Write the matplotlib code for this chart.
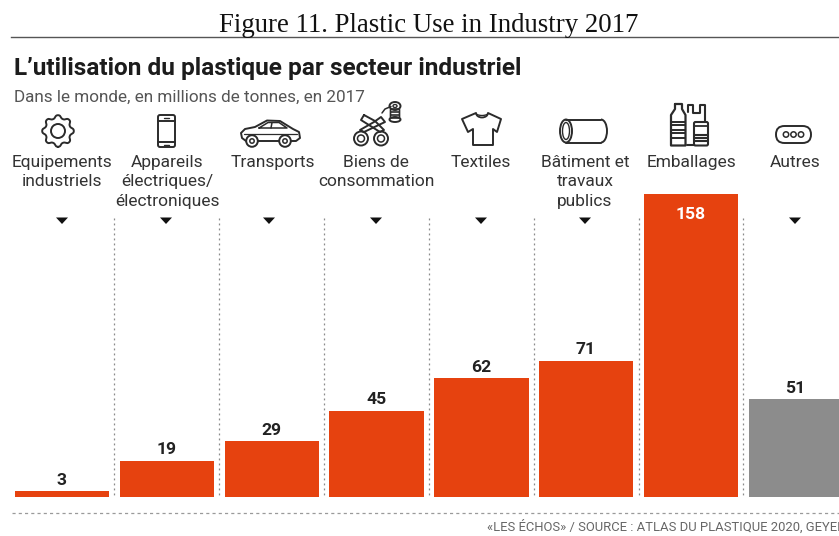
import numpy as np
import matplotlib
matplotlib.use("Agg")
import matplotlib.pyplot as plt
from matplotlib.patches import Circle, Ellipse, FancyBboxPatch, Polygon, Arc

categories = ["Equipements\nindustriels", "Appareils\nélectriques/\nélectroniques", "Transports",
              "Biens de\nconsommation", "Textiles", "Bâtiment et\ntravaux\npublics", "Emballages", "Autres"]
values = [3, 19, 29, 45, 62, 71, 158, 51]
label_x = [62, 167, 273, 376, 481, 585, 691, 795]
marker_x = [62, 166, 269, 376, 481, 585, 795]
colors = ["#E6420F"] * 7 + ["#8C8C8C"]
W, H = 839, 536
INK = "#2B2B2B"

fig = plt.figure(figsize=(W / 100, H / 100), dpi=100, facecolor="white")

# Bars live on their own axes, sized so one unit of index equals one category slot
base, top = 497, 194
ax = fig.add_axes([0, 1 - base / H, 1, (base - top) / H])
ax.set_xlim(-62.2 / 104.8, (W - 62.2) / 104.8)
ax.set_ylim(0, 158)
ax.axis("off")
ax.bar(range(len(values)), values, width=0.902, color=colors)
for i, v in enumerate(values):
    inside = v > 100
    ax.annotate(str(v), (i, v), xytext=(-0.5, -28 if inside else 11), textcoords="offset pixels",
                ha="center", va="center" if not inside else "bottom", fontsize=12.6, fontweight="bold",
                family="Roboto", color="#FFFFFF" if inside else "#222222", annotation_clip=False)

# Overlays in pixel coordinates for the header, icons and rules
ov = fig.add_axes([0, 0, 1, 1], zorder=-1)
ov.set_xlim(0, W)
ov.set_ylim(H, 0)
ov.axis("off")
ov2 = fig.add_axes([0, 0, 1, 1], zorder=3)
ov2.set_xlim(0, W)
ov2.set_ylim(H, 0)
ov2.axis("off")
ov2.patch.set_alpha(0)

ov2.text(429, 25.5, "Figure 11. Plastic Use in Industry 2017", ha="center", va="center",
         fontsize=19.3, family="Liberation Serif", color="#111111")
ov2.plot([11, W], [36.5, 36.5], color="#555555", lw=1)
ov2.text(14, 68.5, "L’utilisation du plastique par secteur industriel", ha="left", va="center",
         fontsize=17.6, fontweight="bold", family="Roboto", color="#1C1C1C")
ov2.text(14, 97, "Dans le monde, en millions de tonnes, en 2017", ha="left", va="center",
         fontsize=12.3, family="Roboto", color="#555555")

for x, lab in zip(label_x, categories):
    ov2.text(x, 155, lab, ha="center", va="top", fontsize=12.5, family="Roboto",
             color="#333333", linespacing=1.37)

for x in marker_x:
    ov2.add_patch(Polygon([[x - 6, 217.5], [x + 6, 217.5], [x, 224]], closed=True, color="#111111", lw=0))

for x in [114, 219, 324, 429, 534, 638.5, 743]:
    ov.plot([x, x], [218, 497], color="#8A8A8A", lw=0.9, ls=(0, (1.5, 2.5)))
ov2.plot([12, W], [513, 513], color="#9A9A9A", lw=0.9, ls=(0, (2.5, 2.5)))

ov2.text(487, 527, "«LES ÉCHOS» / SOURCE : ATLAS DU PLASTIQUE 2020, GEYER", ha="left", va="center",
         fontsize=9.4, family="Roboto", color="#666666", clip_on=True)


def line(pts, lw=1.4, closed=False):
    pts = np.array(pts, dtype=float)
    if closed:
        pts = np.vstack([pts, pts[0]])
    ov2.plot(pts[:, 0], pts[:, 1], color=INK, lw=lw, solid_joinstyle="round", solid_capstyle="round")


def ring(x, y, r, lw=1.4):
    ov2.add_patch(Circle((x, y), r, fill=False, ec=INK, lw=lw))


def rrect(x0, y0, x1, y1, r, lw=1.4):
    ov2.add_patch(FancyBboxPatch((x0 + r, y0 + r), x1 - x0 - 2 * r, y1 - y0 - 2 * r,
                                 boxstyle=f"round,pad={r}", fill=False, ec=INK, lw=lw))


# Gear
gx, gy = 58, 131
ang = np.linspace(0, 2 * np.pi, 145)
rad = 14.3 + 1.8 * np.tanh(1.2 * np.cos(8 * ang))
line(np.c_[gx + rad * np.sin(ang), gy + rad * np.cos(ang)])
ring(gx, gy, 7)

# Phone
rrect(158, 115, 175, 147, 2)
line([[158, 121], [175, 121]])
line([[158, 141.5], [175, 141.5]])
line([[164, 118], [169, 118]], lw=1)
line([[164, 144.5], [169, 144.5]], lw=1)

# Car
line([[246, 141], [242, 138], [241, 133], [245, 129], [255, 127], [267, 120.5], [280, 121],
      [293, 129], [299, 132], [300, 138], [296, 141], [291, 141]])
line([[279, 141], [258, 141]])
line([[259, 128], [287, 128], [279, 122.5], [268, 122.5], [259, 128]], lw=1.1)
line([[272, 122.5], [271, 128]], lw=1.1)
line([[244, 134], [297, 134]], lw=0.9)
for cx in (252, 285):
    ring(cx, 141, 5.8)
    ring(cx, 141, 2.2, lw=1.1)

# Scissors cutting a thread from a spool
ring(361, 138.5, 7)
ring(361, 138.5, 3.5, lw=1.1)
ring(381, 138.5, 7)
ring(381, 138.5, 3.5, lw=1.1)
line([[364, 115], [361, 120], [380, 132], [384, 130], [375, 121]], closed=True)
line([[364, 132], [385, 122], [381, 117], [374, 122], [360, 130]], closed=True)
line([[382, 113], [385, 109], [391, 106.5]], lw=1.1)
ov2.add_patch(Ellipse((395, 106), 11, 8, fill=False, ec=INK, lw=1.4))
ov2.add_patch(Ellipse((395, 106), 4, 3, fill=False, ec=INK, lw=1))
rrect(390.5, 109, 399.5, 118, 1, lw=1.2)
for y in (112, 115):
    line([[391, y], [399, y]], lw=1.2)
ov2.add_patch(Ellipse((395, 119.5), 11, 5, fill=False, ec=INK, lw=1.4))

# T-shirt
line([[476, 113], [462, 119], [468, 132], [473, 129], [473, 145], [493, 145], [493, 129],
      [497, 132], [501, 119], [488, 113]])
ov2.add_patch(Arc((482, 113), 12, 9, theta1=0, theta2=180, ec=INK, lw=1.3))
ov2.add_patch(Arc((482, 113), 12, 5, theta1=0, theta2=180, ec=INK, lw=1))

# Pipe
ov2.add_patch(Ellipse((566, 131), 12, 23, fill=False, ec=INK, lw=1.4))
ov2.add_patch(Ellipse((566, 131), 7, 17, fill=False, ec=INK, lw=1))
line([[566, 119.5], [601, 119.5]])
line([[566, 142.5], [601, 142.5]])
ov2.add_patch(Arc((601, 131), 12, 23, theta1=-90, theta2=90, ec=INK, lw=1.4))

# Bottle, bag and can
line([[675, 104], [682, 104], [682, 109], [685.5, 115], [685.5, 145.5], [671, 145.5], [671, 115], [675, 109]],
     lw=1.6, closed=True)
for y in (122, 125, 130, 133, 138):
    line([[672, y], [685, y]], lw=1.4)
line([[688, 112], [688, 105], [693, 105], [693, 113], [700, 113], [700, 105], [705, 105], [705, 122]], lw=1.5)
rrect(694, 122, 708, 145.5, 1.5, lw=1.5)
line([[694, 126], [708, 126]], lw=1.3)
for y in (135, 138, 141):
    line([[695, y], [707, y]], lw=1.5)
line([[687, 144.5], [694, 144.5]], lw=1.5)

# Rounded pill with three dots
rrect(776, 126, 811, 143, 8.4)
for cx in (786, 793.5, 801):
    ring(cx, 134.5, 2.7, lw=1.1)

fig.savefig("out.png", dpi=100, facecolor="white")
